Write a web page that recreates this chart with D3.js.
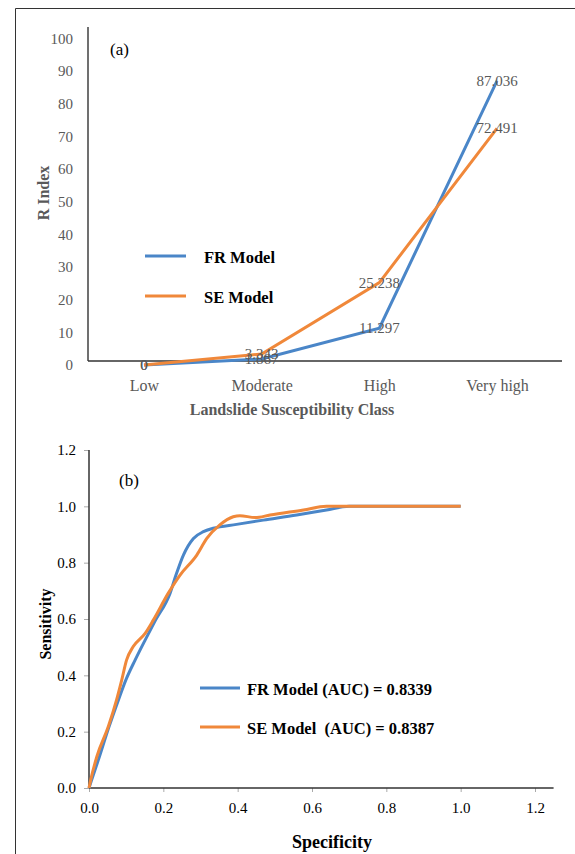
<!DOCTYPE html>
<html>
<head>
<meta charset="utf-8">
<script src="https://cdn.jsdelivr.net/npm/d3@7"></script>
<style>
  body { margin: 0; background: #fff; }
  svg { display: block; font-family: "Liberation Serif", "Times New Roman", serif; }
</style>
</head>
<body>
<div id="chart"></div>
<script>
// (a) R index per susceptibility class
const classes = ["Low", "Moderate", "High", "Very high"];
const frIndex = [0, 1.867, 11.297, 87.036];
const seIndex = [0, 3.343, 25.238, 72.491];
const rTicks = [0, 10, 20, 30, 40, 50, 60, 70, 80, 90, 100];

// (b) ROC curves
const frSpec = [0, 0.007, 0.025, 0.054, 0.079, 0.099, 0.124, 0.151, 0.179, 0.218, 0.234, 0.254, 0.281, 0.308, 0.334, 0.397, 0.469, 0.559, 0.639, 0.70, 0.80, 0.90, 1.0];
const frSens = [0, 0.028, 0.099, 0.218, 0.312, 0.383, 0.454, 0.525, 0.596, 0.691, 0.756, 0.827, 0.886, 0.91, 0.922, 0.936, 0.951, 0.969, 0.987, 1.0, 1.0, 1.0, 1.0];
const seSpec = [0, 0.0045, 0.021, 0.052, 0.074, 0.088, 0.101, 0.119, 0.151, 0.173, 0.213, 0.245, 0.29, 0.317, 0.352, 0.388, 0.406, 0.447, 0.487, 0.577, 0.639, 0.70, 0.80, 0.90, 1.0];
const seSens = [0, 0.028, 0.111, 0.218, 0.312, 0.383, 0.454, 0.502, 0.549, 0.596, 0.691, 0.756, 0.827, 0.886, 0.934, 0.963, 0.967, 0.96, 0.969, 0.987, 1.0, 1.0, 1.0, 1.0, 1.0];
const rocTicks = [0, 0.2, 0.4, 0.6, 0.8, 1.0, 1.2];

const blue = "#4a86c8", orange = "#f0883a", grey = "#595959";
const serif = '"Liberation Serif", "Times New Roman", serif';

let svg = d3.select("#chart").append("svg")
    .attr("width", 575)
    .attr("height", 854);

// frame round the figure (left and top edges show)
svg.append("path")
    .attr("d", "M15.5,854V8.5H575")
    .attr("fill", "none")
    .attr("stroke", "#333")
    .attr("stroke-width", 1);

// ---------- panel (a) ----------
let xA = d3.scalePoint().domain(classes).range([144, 497]);
let yA = d3.scaleLinear().domain([0, 100]).range([365, 38.5]);

let yAxisA = svg.append("g")
    .attr("transform", "translate(88,0)")
    .call(d3.axisLeft(yA).tickValues(rTicks).tickSize(0).tickPadding(15))
    .attr("font-family", serif);
yAxisA.select(".domain").remove();
yAxisA.selectAll("text").attr("fill", grey).style("font-size", "15px");

let xAxisA = svg.append("g")
    .attr("transform", "translate(0," + yA(1.2) + ")")
    .call(d3.axisBottom(xA).tickSize(0).tickPadding(19))
    .attr("font-family", serif);
xAxisA.select(".domain").remove();
xAxisA.selectAll("text").attr("fill", grey).style("font-size", "16px");

svg.append("line")
    .attr("x1", 88).attr("x2", 88)
    .attr("y1", yA(103.5)).attr("y2", yA(1.2))
    .attr("stroke", "#404040").attr("stroke-width", 1.5);
svg.append("line")
    .attr("x1", 88).attr("x2", 562)
    .attr("y1", yA(1.2)).attr("y2", yA(1.2))
    .attr("stroke", "#333").attr("stroke-width", 1.5);

let lineA = d3.line()
    .x((d, i) => xA(classes[i]))
    .y(d => yA(d));

[[frIndex, blue], [seIndex, orange]].forEach(([vals, col]) => {
    svg.append("path")
        .datum(vals)
        .attr("fill", "none")
        .attr("stroke", col)
        .attr("stroke-width", 3)
        .attr("d", lineA);
});

// data labels sit on the points
[frIndex, seIndex].forEach(vals => {
    svg.append("g").selectAll("text")
        .data(vals)
        .join("text")
        .attr("x", (d, i) => xA(classes[i]))
        .attr("y", d => yA(d))
        .attr("text-anchor", "middle")
        .attr("dominant-baseline", "central")
        .attr("fill", grey)
        .style("font-size", "15px")
        .text(d => d);
});

svg.append("text")
    .attr("x", 110).attr("y", 55)
    .style("font-size", "17px")
    .text("(a)");

svg.append("text")
    .attr("transform", "translate(43,193) rotate(-90)")
    .attr("text-anchor", "middle")
    .attr("dominant-baseline", "central")
    .attr("fill", grey)
    .style("font-size", "16px").style("font-weight", "bold")
    .text("R Index");

svg.append("text")
    .attr("x", 292).attr("y", 415)
    .attr("text-anchor", "middle")
    .attr("fill", grey)
    .style("font-size", "16px").style("font-weight", "bold")
    .text("Landslide Susceptibility Class");

let legendA = [["FR Model", blue, 256], ["SE Model", orange, 296]];
legendA.forEach(([name, col, y]) => {
    svg.append("line")
        .attr("x1", 145).attr("x2", 186)
        .attr("y1", y).attr("y2", y)
        .attr("stroke", col).attr("stroke-width", 3);
    svg.append("text")
        .attr("x", 204).attr("y", y + 1)
        .attr("dominant-baseline", "central")
        .style("font-size", "16.5px").style("font-weight", "bold")
        .text(name);
});

// ---------- panel (b) ----------
let xB = d3.scaleLinear().domain([0, 1.2]).range([89, 535]);
let yB = d3.scaleLinear().domain([0, 1.2]).range([788, 450]);

let yAxisB = svg.append("g")
    .attr("transform", "translate(89,0)")
    .call(d3.axisLeft(yB).tickValues(rocTicks).tickFormat(d3.format(".1f")).tickSize(5).tickPadding(8))
    .attr("font-family", serif);
yAxisB.select(".domain").remove();
yAxisB.selectAll("line").attr("stroke", "#aaa");
yAxisB.selectAll("text").attr("fill", "#000").style("font-size", "15px");

let xAxisB = svg.append("g")
    .attr("transform", "translate(0,788)")
    .call(d3.axisBottom(xB).tickValues(rocTicks).tickFormat(d3.format(".1f")).tickSize(4).tickPadding(10))
    .attr("font-family", serif);
xAxisB.select(".domain").remove();
xAxisB.selectAll("line").attr("stroke", "#aaa");
xAxisB.selectAll("text").attr("fill", "#000").style("font-size", "15px");

svg.append("line")
    .attr("x1", 89).attr("x2", 89)
    .attr("y1", yB(1.2)).attr("y2", yB(0))
    .attr("stroke", "#333").attr("stroke-width", 1.5);
svg.append("line")
    .attr("x1", 89).attr("x2", xB(1.25))
    .attr("y1", yB(0)).attr("y2", yB(0))
    .attr("stroke", "#333").attr("stroke-width", 1.5);

let lineB = d3.line()
    .x(d => xB(d[0]))
    .y(d => yB(d[1]))
    .curve(d3.curveMonotoneX);

[[frSpec, frSens, blue], [seSpec, seSens, orange]].forEach(([xs, ys, col]) => {
    svg.append("path")
        .datum(xs.map((x, i) => [x, ys[i]]))
        .attr("fill", "none")
        .attr("stroke", col)
        .attr("stroke-width", 3)
        .attr("d", lineB);
});

svg.append("text")
    .attr("x", 119).attr("y", 486)
    .style("font-size", "17px")
    .text("(b)");

svg.append("text")
    .attr("transform", "translate(45,624) rotate(-90)")
    .attr("text-anchor", "middle")
    .attr("dominant-baseline", "central")
    .style("font-size", "16px").style("font-weight", "bold")
    .text("Sensitivity");

svg.append("text")
    .attr("x", 332).attr("y", 848)
    .attr("text-anchor", "middle")
    .style("font-size", "18px").style("font-weight", "bold")
    .text("Specificity");

let legendB = [["FR Model (AUC) = 0.8339", blue, 688], ["SE Model\u00a0\u00a0(AUC) = 0.8387", orange, 727]];
legendB.forEach(([name, col, y]) => {
    svg.append("line")
        .attr("x1", 200).attr("x2", 240)
        .attr("y1", y).attr("y2", y)
        .attr("stroke", col).attr("stroke-width", 3);
    svg.append("text")
        .attr("x", 247).attr("y", y + 1)
        .attr("dominant-baseline", "central")
        .style("font-size", "16.5px").style("font-weight", "bold")
        .text(name);
});
</script>
</body>
</html>
